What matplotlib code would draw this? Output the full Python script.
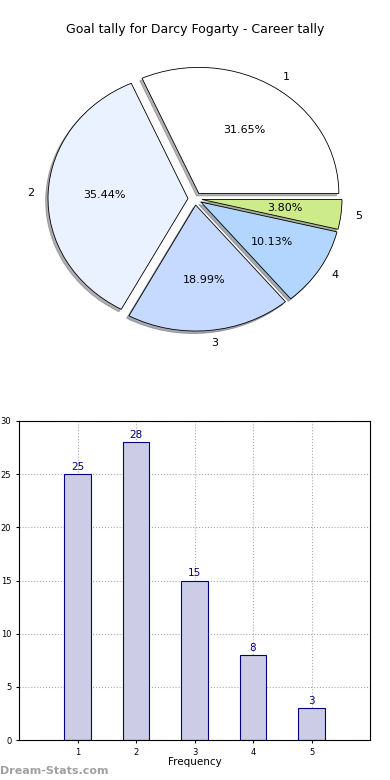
import matplotlib
matplotlib.use("Agg")
import matplotlib.pyplot as plt

# データ
categories = ["1", "2", "3", "4", "5"]
tally = [25, 28, 15, 8, 3]
pie_colors = ["#ffffff", "#eaf1ff", "#c6d9ff", "#b3d6ff", "#cdeb8b"]

fig = plt.figure(figsize=(3.9, 7.8), dpi=100)

# =============================================================================
# 円グラフ（楕円形）
# =============================================================================
ax1 = fig.add_axes([20 / 390, 0.5432, 350 / 390, 0.404])
wedges, texts, autotexts = ax1.pie(
    tally, labels=categories, colors=pie_colors, autopct="%.2f%%",
    explode=[0.05] * len(tally),
    shadow=dict(ox=-0.012, oy=-0.014, shade=0.6), startangle=0,
    wedgeprops=dict(edgecolor="black", linewidth=0.6),
    textprops=dict(fontsize=8))
ax1.set_aspect("auto")
ax1.set_xlim(-1.25, 1.25)
ax1.set_ylim(-1.25, 1.25)
fig.text(0.5, 1 - 30 / 780, "Goal tally for Darcy Fogarty - Career tally",
         ha="center", va="center", fontsize=9)

# =============================================================================
# 棒グラフ
# =============================================================================
ax2 = fig.add_axes([19 / 390, 1 - 740 / 780, 351 / 390, 319 / 780])
x = list(range(1, len(tally) + 1))
bars = ax2.bar(x, tally, width=0.45, color="#ccccE6", edgecolor="#000080",
               linewidth=0.8, zorder=2)
for xi, v in zip(x, tally):
    ax2.text(xi, v + 0.2, str(v), ha="center", va="bottom",
             fontsize=7.5, color="#000080")
ax2.set_xlim(0, 6)
ax2.set_ylim(0, 30)
ax2.set_xticks(x)
ax2.set_xticklabels(categories)
ax2.set_yticks(range(0, 31, 5))
ax2.tick_params(labelsize=6, length=2)
ax2.grid(True, linestyle=":", color="#aaaaaa", linewidth=0.8, zorder=0)
ax2.set_axisbelow(True)
ax2.set_xlabel("Frequency", fontsize=7.5, labelpad=0)
ax2.set_ylabel("Goal tally", fontsize=7.5, labelpad=3)

fig.text(0.0, 1 - 771 / 780, "Dream-Stats.com", ha="left", va="center",
         fontsize=8, color="#a0a0a0", fontweight="bold")

fig.savefig("out.png", dpi=100)
